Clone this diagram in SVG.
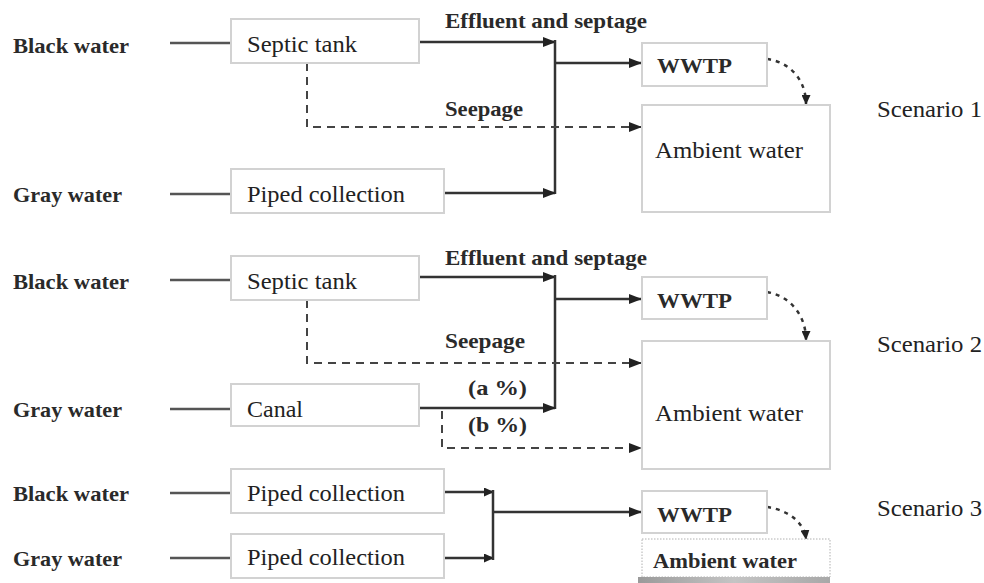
<svg xmlns="http://www.w3.org/2000/svg" width="984" height="583" viewBox="0 0 984 583">
<defs>
<marker id="ah" markerUnits="userSpaceOnUse" markerWidth="13" markerHeight="10" refX="12" refY="5" orient="auto">
<path d="M0,0 L13,5 L0,10 z" fill="#222"/>
</marker>
<marker id="ahs" markerUnits="userSpaceOnUse" markerWidth="10" markerHeight="9" refX="9" refY="4.5" orient="auto">
<path d="M0,0 L10,4.5 L0,9 z" fill="#222"/>
</marker>
<linearGradient id="bar" x1="0" y1="0" x2="1" y2="0">
<stop offset="0" stop-color="#9a9a9a"/>
<stop offset="0.5" stop-color="#c4c4c4"/>
<stop offset="1" stop-color="#a8a8a8"/>
</linearGradient>
</defs>
<style>
.box{fill:#fff;stroke:#d2d2d2;stroke-width:2}
.dbox{fill:#fff;stroke:#b0b0b0;stroke-width:1;stroke-dasharray:1.5 1.5}
.t{font-family:"Liberation Serif","Times New Roman",serif;font-size:24px;fill:#222}
.b{font-family:"Liberation Serif","Times New Roman",serif;font-size:22px;font-weight:bold;fill:#2a2a2a}
.in{stroke:#555;stroke-width:2.5;fill:none}
.ln{stroke:#333;stroke-width:2.5;fill:none}
.dash{stroke:#444;stroke-width:2;fill:none;stroke-dasharray:8 6}
.dot{stroke:#333;stroke-width:2.5;fill:none;stroke-dasharray:4 5}
</style>
<rect width="984" height="583" fill="#fff"/>

<g id="connectors">
<!-- Scenario 1 -->
<line class="in" x1="170" y1="43" x2="231" y2="43"/>
<line class="in" x1="170" y1="194" x2="231" y2="194"/>
<path class="ln" d="M419,42 H555" marker-end="url(#ah)"/>
<path class="ln" d="M555,40 V194"/>
<path class="ln" d="M444,193 H555" marker-end="url(#ah)"/>
<path class="ln" d="M555,63 H641" marker-end="url(#ah)"/>
<path class="dash" d="M307,63 V127 H641" marker-end="url(#ah)"/>
<path class="dot" d="M767,59 C790,62 806,80 806,104" marker-end="url(#ahs)"/>
<!-- Scenario 2 -->
<line class="in" x1="170" y1="280" x2="231" y2="280"/>
<line class="in" x1="170" y1="409" x2="231" y2="409"/>
<path class="ln" d="M419,277 H555" marker-end="url(#ah)"/>
<path class="ln" d="M555,275 V409"/>
<path class="ln" d="M555,299 H641" stroke-width="3.5" marker-end="url(#ah)"/>
<path class="dash" d="M307,300 V363 H641" marker-end="url(#ah)"/>
<path class="ln" d="M419,408 H555" marker-end="url(#ah)"/>
<path class="dash" d="M442,411 V448 H641" marker-end="url(#ah)"/>
<path class="dot" d="M767,292 C790,296 806,315 806,340" marker-end="url(#ahs)"/>
<!-- Scenario 3 -->
<line class="in" x1="170" y1="493" x2="231" y2="493"/>
<line class="in" x1="170" y1="558" x2="231" y2="558"/>
<path class="ln" d="M444,492 H493" marker-end="url(#ahs)"/>
<path class="ln" d="M444,558 H493" stroke-width="3.5" marker-end="url(#ahs)"/>
<path class="ln" d="M493,490 V560"/>
<path class="ln" d="M493,512 H641" marker-end="url(#ah)"/>
<path class="dot" d="M767,507 C788,510 804,522 806,539" marker-end="url(#ahs)"/>
</g>

<!-- Scenario 1 -->
<g id="s1-black"><text class="b" x="13" y="53" textLength="116" lengthAdjust="spacingAndGlyphs">Black water</text></g>
<g id="s1-gray"><text class="b" x="13" y="202" textLength="109" lengthAdjust="spacingAndGlyphs">Gray water</text></g>
<g id="s1-septic"><rect class="box" x="231" y="19" width="188" height="44"/><text class="t" x="247" y="52" textLength="110" lengthAdjust="spacingAndGlyphs">Septic tank</text></g>
<g id="s1-piped"><rect class="box" x="231" y="169" width="213" height="44"/><text class="t" x="247" y="202" textLength="158" lengthAdjust="spacingAndGlyphs">Piped collection</text></g>
<g id="s1-wwtp"><rect class="box" x="642" y="43" width="125" height="43"/><text class="b" x="657" y="73" textLength="75" lengthAdjust="spacingAndGlyphs">WWTP</text></g>
<g id="s1-ambient"><rect class="box" x="642" y="105" width="188" height="107"/><text class="t" x="655" y="158" textLength="148" lengthAdjust="spacingAndGlyphs">Ambient water</text></g>
<g id="s1-labels">
<text class="b" x="445" y="28" textLength="202" lengthAdjust="spacingAndGlyphs">Effluent and septage</text>
<text class="b" x="445" y="116" textLength="78" lengthAdjust="spacingAndGlyphs">Seepage</text>
</g>
<g id="s1-title"><text class="t" x="877" y="117" textLength="105" lengthAdjust="spacingAndGlyphs">Scenario 1</text></g>

<!-- Scenario 2 -->
<g id="s2-black"><text class="b" x="13" y="289" textLength="116" lengthAdjust="spacingAndGlyphs">Black water</text></g>
<g id="s2-gray"><text class="b" x="13" y="417" textLength="109" lengthAdjust="spacingAndGlyphs">Gray water</text></g>
<g id="s2-septic"><rect class="box" x="231" y="256" width="188" height="44"/><text class="t" x="247" y="289" textLength="110" lengthAdjust="spacingAndGlyphs">Septic tank</text></g>
<g id="s2-canal"><rect class="box" x="231" y="384" width="188" height="42"/><text class="t" x="247" y="417" textLength="56" lengthAdjust="spacingAndGlyphs">Canal</text></g>
<g id="s2-wwtp"><rect class="box" x="642" y="277" width="125" height="42"/><text class="b" x="657" y="308" textLength="75" lengthAdjust="spacingAndGlyphs">WWTP</text></g>
<g id="s2-ambient"><rect class="box" x="642" y="341" width="188" height="128"/><text class="t" x="655" y="421" textLength="148" lengthAdjust="spacingAndGlyphs">Ambient water</text></g>
<g id="s2-labels">
<text class="b" x="445" y="265" textLength="202" lengthAdjust="spacingAndGlyphs">Effluent and septage</text>
<text class="b" x="445" y="348" textLength="80" lengthAdjust="spacingAndGlyphs">Seepage</text>
<text class="b" x="468" y="395" textLength="59" lengthAdjust="spacingAndGlyphs">(a %)</text>
<text class="b" x="468" y="432" textLength="59" lengthAdjust="spacingAndGlyphs">(b %)</text>
</g>
<g id="s2-title"><text class="t" x="877" y="352" textLength="105" lengthAdjust="spacingAndGlyphs">Scenario 2</text></g>

<!-- Scenario 3 -->
<g id="s3-black"><text class="b" x="13" y="501" textLength="116" lengthAdjust="spacingAndGlyphs">Black water</text></g>
<g id="s3-gray"><text class="b" x="13" y="566" textLength="109" lengthAdjust="spacingAndGlyphs">Gray water</text></g>
<g id="s3-piped1"><rect class="box" x="231" y="469" width="213" height="44"/><text class="t" x="247" y="501" textLength="158" lengthAdjust="spacingAndGlyphs">Piped collection</text></g>
<g id="s3-piped2"><rect class="box" x="231" y="534" width="213" height="44"/><text class="t" x="247" y="565" textLength="158" lengthAdjust="spacingAndGlyphs">Piped collection</text></g>
<g id="s3-wwtp"><rect class="box" x="642" y="491" width="125" height="42"/><text class="b" x="657" y="522" textLength="75" lengthAdjust="spacingAndGlyphs">WWTP</text></g>
<g id="s3-ambient"><rect class="dbox" x="642" y="539" width="188" height="38"/><rect x="638" y="577" width="192" height="6" fill="url(#bar)"/><text class="b" x="653" y="568" font-size="21" textLength="144" lengthAdjust="spacingAndGlyphs">Ambient water</text></g>
<g id="s3-title"><text class="t" x="877" y="516" textLength="105" lengthAdjust="spacingAndGlyphs">Scenario 3</text></g>
</svg>
